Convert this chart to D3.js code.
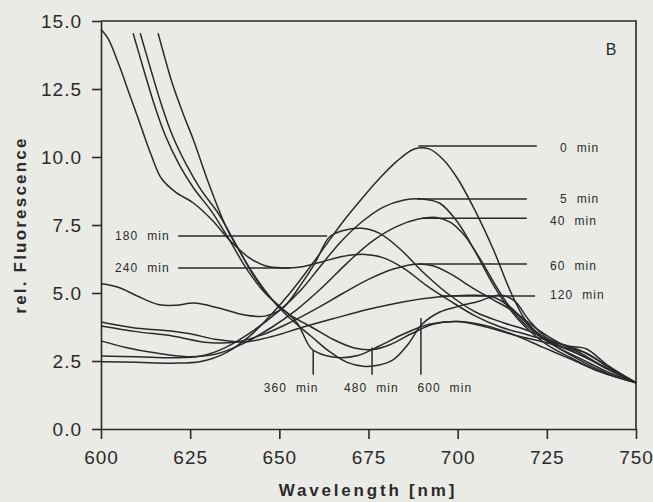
<!DOCTYPE html>
<html>
<head>
<meta charset="utf-8">
<script src="https://cdn.jsdelivr.net/npm/d3@7"></script>
<style>
  body { margin: 0; background: #eaeae6; }
  svg { display: block; font-family: "Liberation Sans", Arial, sans-serif; }
  .lbl { font-size: 12px; letter-spacing: 1.1px; fill: #2a2a2a; white-space: pre; }
</style>
</head>
<body>
<div id="chart"></div>
<script>
// spectra, [wavelength nm, rel. fluorescence]
var s0 = [[600,2.47],[610,2.45],[620,2.42],[628,2.48],[635,2.8],[642,3.45],[648,4.25],[653,5.0],[658,5.85],[663,6.75],[668,7.65],[673,8.45],[678,9.2],[683,9.85],[688,10.3],[692,10.3],[696,9.9],[700,9.2],[705,8.0],[710,6.6],[715,5.0],[719,4.0],[723,3.45],[728,3.0],[734,2.55],[740,2.15],[745,1.9],[750,1.7]];
var s5 = [[600,2.68],[610,2.66],[620,2.62],[628,2.68],[635,3.0],[642,3.55],[650,4.35],[656,5.1],[661,5.9],[667,6.85],[673,7.6],[679,8.15],[685,8.42],[690,8.46],[695,8.3],[700,7.6],[705,6.5],[710,5.3],[714,4.5],[719,3.75],[725,3.1],[732,2.6],[740,2.1],[750,1.7]];
var s40 = [[600,3.24],[607,3.0],[615,2.8],[624,2.66],[632,2.75],[640,3.15],[648,3.75],[655,4.4],[662,5.2],[669,6.1],[676,6.9],[683,7.45],[689,7.72],[694,7.78],[698,7.6],[702,7.1],[707,6.1],[711,5.2],[716,4.25],[722,3.5],[728,3.0],[735,2.55],[742,2.1],[750,1.7]];
var s60 = [[600,3.79],[610,3.58],[620,3.42],[630,3.18],[638,3.2],[645,3.45],[652,3.85],[660,4.4],[668,5.0],[675,5.5],[682,5.88],[688,6.06],[693,6.0],[698,5.7],[704,5.2],[710,4.75],[716,4.3],[722,3.7],[728,3.2],[735,2.75],[742,2.2],[750,1.7]];
var s120 = [[600,3.93],[609,3.72],[618,3.62],[625,3.5],[632,3.3],[640,3.2],[648,3.4],[656,3.72],[665,4.05],[675,4.4],[685,4.68],[695,4.86],[704,4.92],[710,4.85],[715,4.45],[720,3.8],[726,3.2],[733,2.8],[741,2.3],[750,1.7]];
var s180 = [[600,5.35],[605,5.2],[610,4.9],[616,4.58],[621,4.55],[626,4.63],[633,4.45],[640,4.2],[646,4.15],[651,4.45],[656,5.3],[660,6.1],[664,7.05],[668,7.3],[673,7.38],[678,7.2],[684,6.6],[690,5.8],[697,5.0],[705,4.3],[713,3.9],[720,3.6],[728,3.1],[735,2.7],[742,2.2],[750,1.7]];
var s240 = [[600,14.7],[602,14.35],[605,13.4],[608,12.3],[611,11.2],[614,10.1],[617,9.2],[621,8.7],[626,8.3],[631,7.7],[636,6.95],[641,6.35],[646,6.0],[651,5.92],[656,5.96],[662,6.15],[668,6.35],[674,6.42],[679,6.3],[685,5.9],[691,5.3],[698,4.7],[705,4.15],[712,3.75],[720,3.45],[728,3.15],[735,2.85],[742,2.3],[750,1.7]];
var s360 = [[609,14.55],[612,13.2],[615,11.9],[618,10.8],[622,9.7],[626,8.85],[631,8.0],[636,6.95],[641,5.85],[646,5.0],[651,4.4],[655,3.9],[659,2.95],[663,2.7],[667,2.62],[672,2.7],[678,3.05],[685,3.5],[692,3.85],[700,3.95],[708,3.8],[716,3.45],[724,3.0],[732,2.55],[740,2.1],[750,1.7]];
var s480 = [[611,14.55],[614,13.2],[617,11.9],[620,10.8],[624,9.7],[628,8.8],[633,7.9],[638,6.75],[643,5.6],[648,4.75],[653,4.2],[659,3.75],[665,3.3],[671,2.98],[676,2.92],[681,3.1],[687,3.5],[693,3.85],[700,3.95],[708,3.75],[716,3.45],[724,3.2],[730,3.0],[736,2.8],[742,2.3],[750,1.7]];
var s600 = [[616,14.55],[618,13.6],[620,12.7],[623,11.6],[626,10.6],[630,9.1],[635,7.45],[639,6.5],[644,5.45],[649,4.6],[654,3.95],[659,3.4],[664,2.85],[669,2.45],[674,2.3],[678,2.35],[682,2.55],[686,3.1],[690,3.85],[695,4.3],[700,4.5],[706,4.7],[712,4.93],[716,4.7],[720,4.0],[725,3.35],[731,3.05],[736,2.95],[742,2.35],[750,1.7]];

var spectra = [s0, s5, s40, s60, s120, s180, s240, s360, s480, s600];

// ticks
var xTicks = [600, 625, 650, 675, 700, 725, 750];
var yTicks = [0, 2.5, 5, 7.5, 10, 12.5, 15];

// labels: text, leader [x1, y1, x2, y2], label anchor x, y
var labelText = ["0  min", "5  min", "40  min", "60  min", "120  min", "180  min", "240  min", "360  min", "480  min", "600  min"];
var leaders = [
  [689, 10.4, 722.2, 10.4],
  [688.6, 8.46, 719.4, 8.46],
  [690, 7.75, 719.4, 7.75],
  [689, 6.07, 719.4, 6.07],
  [695, 4.89, 721.7, 4.89],
  [621.6, 7.1, 663.4, 7.1],
  [621.6, 5.92, 653, 5.92],
  [659.5, 2.9, 659.5, 1.99],
  [676, 3.0, 676, 1.99],
  [689.7, 4.08, 689.7, 1.99]
];
var labelX = [728.7, 728.7, 725.9, 725.9, 725.9, 619.3, 619.3, 653.3, 675.8, 696.4];
var labelY = [10.33, 8.46, 7.65, 6.0, 4.93, 7.1, 5.92, 1.5, 1.5, 1.5];
var labelAnchor = ["start", "start", "start", "start", "start", "end", "end", "middle", "middle", "middle"];

var width = 653;
var height = 502;
var ink = "#2a2a2a";

var svg = d3.select("#chart")
  .append("svg")
  .attr("width", width)
  .attr("height", height);

var x = d3.scaleLinear().domain([600, 750]).range([101, 636]);
var y = d3.scaleLinear().domain([0, 15]).range([429, 21]);

// frame (top and right)
svg.append("path")
  .attr("d", "M" + x(600) + "," + y(15) + "H" + x(750) + "V" + y(0))
  .attr("fill", "none")
  .attr("stroke", ink)
  .attr("stroke-width", 1.6);

var xAxis = svg.append("g")
  .attr("transform", "translate(0," + y(0) + ")")
  .call(d3.axisBottom(x).tickValues(xTicks).tickSize(10).tickSizeOuter(0).tickPadding(12));

var yAxis = svg.append("g")
  .attr("transform", "translate(" + x(600) + ",0)")
  .call(d3.axisLeft(y).tickValues(yTicks).tickSize(9).tickSizeOuter(0).tickPadding(10)
    .tickFormat(d3.format(".1f")));

[xAxis, yAxis].forEach(function (g) {
  g.select(".domain").attr("stroke", ink).attr("stroke-width", 1.6);
  g.selectAll(".tick line").attr("stroke", ink).attr("stroke-width", 1.6);
  g.selectAll(".tick text")
    .attr("fill", ink)
    .style("font-size", "19px")
    .style("letter-spacing", "1px")
    .style("font-family", "'Liberation Sans', Arial, sans-serif");
});

// spectra
var line = d3.line()
  .x(function (d) { return x(d[0]); })
  .y(function (d) { return y(d[1]); })
  .curve(d3.curveCatmullRom.alpha(0.5));

svg.append("g")
  .selectAll("path")
  .data(spectra)
  .join("path")
  .attr("d", line)
  .attr("fill", "none")
  .attr("stroke", ink)
  .attr("stroke-width", 1.5);

// leader lines
svg.append("g")
  .selectAll("line")
  .data(leaders)
  .join("line")
  .attr("x1", function (d) { return x(d[0]); })
  .attr("y1", function (d) { return y(d[1]); })
  .attr("x2", function (d) { return x(d[2]); })
  .attr("y2", function (d) { return y(d[3]); })
  .attr("stroke", ink)
  .attr("stroke-width", 1.5);

svg.append("g")
  .selectAll("text")
  .data(labelText)
  .join("text")
  .attr("class", "lbl")
  .attr("x", function (d, i) { return x(labelX[i]); })
  .attr("y", function (d, i) { return y(labelY[i]); })
  .attr("dy", "0.35em")
  .attr("text-anchor", function (d, i) { return labelAnchor[i]; })
  .text(function (d) { return d; });

// panel letter
svg.append("text")
  .attr("x", 611)
  .attr("y", 49)
  .attr("dy", "0.35em")
  .attr("text-anchor", "middle")
  .style("font-size", "16px")
  .attr("fill", ink)
  .text("B");

// axis titles
svg.append("text")
  .attr("x", 368)
  .attr("y", 490)
  .attr("dy", "0.35em")
  .attr("text-anchor", "middle")
  .style("font-size", "17px")
  .style("letter-spacing", "2.8px")
  .style("font-weight", "bold")
  .attr("fill", ink)
  .text("Wavelength [nm]");

svg.append("text")
  .attr("transform", "translate(20,225)rotate(-90)")
  .attr("dy", "0.35em")
  .attr("text-anchor", "middle")
  .style("font-size", "17px")
  .style("letter-spacing", "2.2px")
  .style("font-weight", "bold")
  .attr("fill", ink)
  .text("rel. Fluorescence");
</script>
</body>
</html>
